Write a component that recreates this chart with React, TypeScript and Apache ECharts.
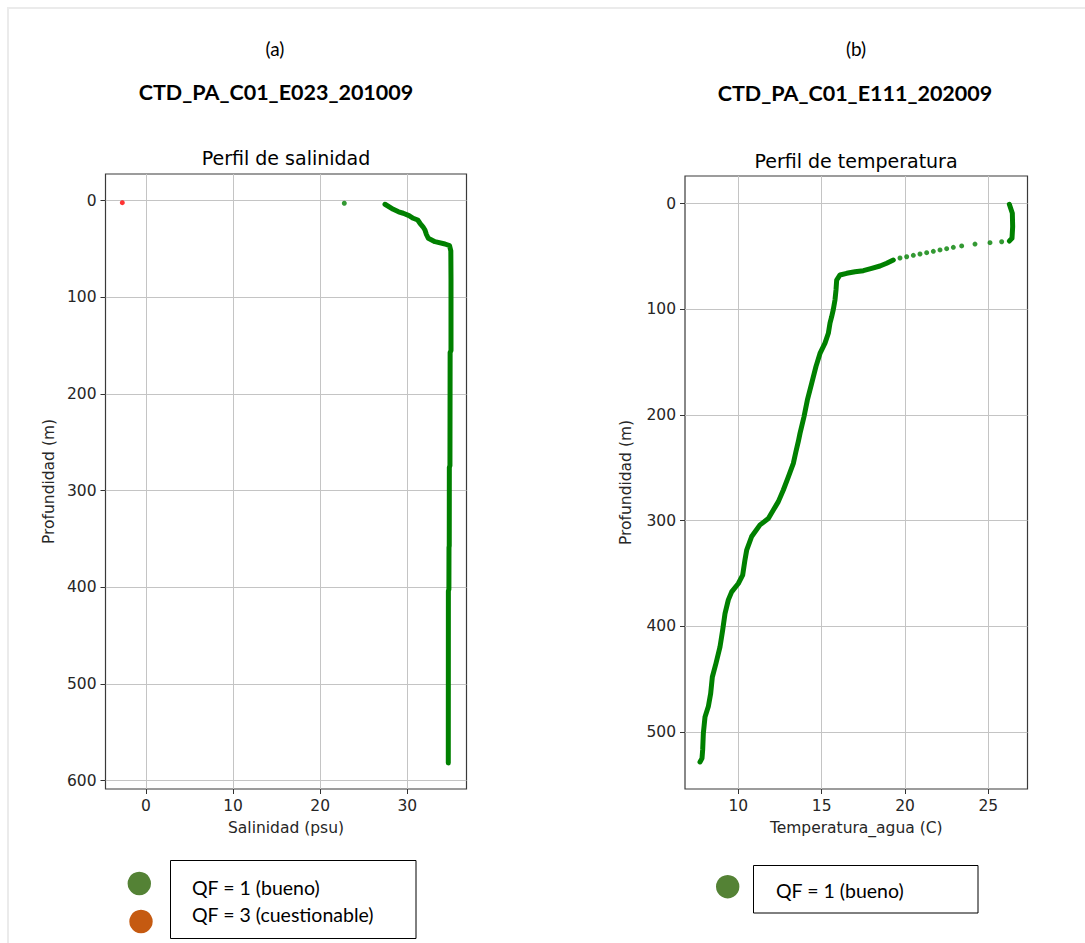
import React, { useEffect, useRef } from "react";
import * as echarts from "echarts";

// ---- Panel (a): salinity ----
const salTicksX = [0, 10, 20, 30];
const salTicksY = [0, 100, 200, 300, 400, 500, 600];
// [salinity (psu), depth (m)] QF = 1 profile
const salProfile: number[][] = [
  [27.44, 3.7], [28.39, 8.9], [29.0, 11.5], [29.54, 13], [30.2, 15.5], [30.69, 18.2],
  [31.2, 20], [31.46, 23.4], [31.8, 27], [32.03, 30.3], [32.2, 35], [32.41, 38.9],
  [33.18, 42.4], [34.33, 44.8], [34.85, 46.5], [35.0, 52], [35.02, 82], [35.02, 155],
  [34.92, 157], [34.9, 274], [34.83, 276], [34.82, 357], [34.79, 359], [34.78, 402],
  [34.72, 404], [34.71, 581.8],
];
const salIsolatedGood: number[][] = [[22.77, 2.7]];
const salQuestionable: number[][] = [[-2.72, 2.1]];

// ---- Panel (b): temperature ----
const tempTicksX = [10, 15, 20, 25];
const tempTicksY = [0, 100, 200, 300, 400, 500];
// [temperature (C), depth (m)]
const tempUpper: number[][] = [
  [26.26, 0.6], [26.44, 9], [26.46, 21.8], [26.42, 32.8], [26.26, 35.3],
];
const tempSparse: number[][] = [
  [25.8, 36], [25.1, 36.9], [24.2, 38.2], [23.4, 40], [22.9, 41.3], [22.5, 42.6],
  [22.1, 43.8], [21.7, 45.1], [21.3, 46.4], [20.9, 47.6], [20.5, 48.9], [20.1, 50.2],
  [19.7, 51.4],
];
const tempLower: number[][] = [
  [19.3, 53.3], [18.9, 56.4], [18.5, 59], [18.0, 61.2], [17.5, 63.4], [17.0, 64.4],
  [16.5, 65.9], [16.1, 67.5], [15.9, 72.3], [15.86, 81.7], [15.8, 91], [15.7, 100],
  [15.6, 107], [15.5, 113], [15.4, 122.7], [15.2, 132], [14.9, 141.7], [14.66, 154],
  [14.4, 170], [14.14, 186], [13.94, 201.7], [13.7, 217.4], [13.6, 225], [13.45, 235],
  [13.3, 245.8], [13.0, 258.5], [12.7, 271], [12.4, 282], [12.1, 290], [11.8, 298],
  [11.3, 304], [10.8, 315], [10.5, 328], [10.4, 337], [10.26, 351.6], [10.0, 359.5],
  [9.6, 367.4], [9.4, 375], [9.2, 388], [9.06, 403.7], [8.9, 419.5], [8.66, 435],
  [8.44, 448], [8.34, 463.6], [8.2, 476], [8.0, 485.8], [7.9, 501.5], [7.86, 517],
  [7.82, 525], [7.7, 528.4],
];

const GREEN = "#008000";
const RED = "#ff0000";
const LEG_GREEN = "#548235";
const LEG_ORANGE = "#c55a11";

const axisText = { color: "#262626", fontSize: 15.5, fontFamily: "DejaVu Sans" };
const docFont = "Lato";

function makeX(gridIndex: number, min: number, max: number, ticks: number[], name: string) {
  return {
    gridIndex, type: "value", min, max, position: "bottom",
    axisLine: { show: false, onZero: false },
    axisTick: { show: true, length: 5, customValues: ticks, lineStyle: { color: "#333", width: 1 } },
    axisLabel: { customValues: ticks, margin: 9, ...axisText },
    splitLine: { show: true, lineStyle: { color: "#c4c4c4", width: 1 } },
    name, nameLocation: "middle", nameGap: 31, nameTextStyle: axisText,
  };
}
function makeY(gridIndex: number, min: number, max: number, ticks: number[], nameGap: number) {
  return {
    gridIndex, type: "value", min, max, inverse: true, position: "left",
    axisLine: { show: false, onZero: false },
    axisTick: { show: true, length: 5, customValues: ticks, lineStyle: { color: "#333", width: 1 } },
    axisLabel: { customValues: ticks, margin: 9, ...axisText },
    splitLine: { show: true, lineStyle: { color: "#c4c4c4", width: 1 } },
    name: "Profundidad (m)", nameLocation: "middle", nameGap, nameTextStyle: axisText,
  };
}

const lineSeries = (x: number, data: number[][]) => ({
  type: "line", xAxisIndex: x, yAxisIndex: x, data, symbol: "none", smooth: false,
  lineStyle: { color: GREEN, width: 5, cap: "round", join: "round" }, silent: true,
});
const dotSeries = (x: number, data: number[][], color: string) => ({
  type: "scatter", xAxisIndex: x, yAxisIndex: x, data, symbolSize: 5,
  itemStyle: { color }, silent: true,
});

export default function App() {
  const ref = useRef<HTMLDivElement>(null);
  useEffect(() => {
    if (!ref.current) return;
    const chart = echarts.init(ref.current, undefined, { renderer: "svg" });
    const text = (x: number, y: number, t: string, size: number, bold = false, family = docFont, align = "center") => ({
      type: "text", x, y,
      style: { text: t, fontSize: size, fontWeight: bold ? "bold" : "normal", fontFamily: family, fill: "#000", textAlign: align, textVerticalAlign: "middle" },
    });
    chart.setOption({
      animation: false,
      backgroundColor: "#fff",
      grid: [
        { left: 105.5, top: 174, width: 361, height: 615, show: true, borderColor: "#3a3a3a", borderWidth: 1.2 },
        { left: 685, top: 176, width: 342.5, height: 613, show: true, borderColor: "#3a3a3a", borderWidth: 1.2 },
      ],
      xAxis: [
        makeX(0, -4.65, 36.8, salTicksX, "Salinidad (psu)"),
        makeX(1, 6.8, 27.35, tempTicksX, "Temperatura_agua (C)"),
      ],
      yAxis: [
        makeY(0, -27.6, 608.7, salTicksY, 49),
        makeY(1, -26.2, 554, tempTicksY, 51),
      ],
      series: [
        lineSeries(0, salProfile),
        dotSeries(0, salIsolatedGood, GREEN),
        dotSeries(0, salQuestionable, RED),
        lineSeries(1, tempUpper),
        dotSeries(1, tempSparse, GREEN),
        lineSeries(1, tempLower),
      ],
      graphic: [
        { type: "rect", shape: { x: 8, y: 8, width: 1090, height: 950 }, style: { fill: "none", stroke: "#ebebeb", lineWidth: 2 }, silent: true },
        text(275, 48, "(a)", 19),
        text(276, 92, "CTD_PA_C01_E023_201009", 21.5, true),
        text(856, 48, "(b)", 19),
        text(855, 93, "CTD_PA_C01_E111_202009", 21.5, true),
        text(286, 158, "Perfil de salinidad", 19, false, "DejaVu Sans"),
        text(856, 161, "Perfil de temperatura", 19, false, "DejaVu Sans"),
        // legend (a)
        { type: "circle", shape: { cx: 139.3, cy: 883.5, r: 11.7 }, style: { fill: LEG_GREEN } },
        { type: "circle", shape: { cx: 141, cy: 921.5, r: 11.7 }, style: { fill: LEG_ORANGE } },
        { type: "rect", shape: { x: 170.5, y: 860.5, width: 245.5, height: 78 }, style: { fill: "#fff", stroke: "#000", lineWidth: 1 } },
        text(192, 887, "QF = 1 (bueno)", 19.5, false, docFont, "left"),
        text(192, 914, "QF = 3 (cuestionable)", 19.5, false, docFont, "left"),
        // legend (b)
        { type: "circle", shape: { cx: 727.7, cy: 886.7, r: 11.7 }, style: { fill: LEG_GREEN } },
        { type: "rect", shape: { x: 753.5, y: 865.5, width: 224.5, height: 47.5 }, style: { fill: "#fff", stroke: "#000", lineWidth: 1 } },
        text(776, 890, "QF = 1 (bueno)", 19.5, false, docFont, "left"),
      ],
    });
    return () => chart.dispose();
  }, []);
  return <div ref={ref} style={{ position: "absolute", left: 0, top: 0, width: 1085, height: 943 }} />;
}
